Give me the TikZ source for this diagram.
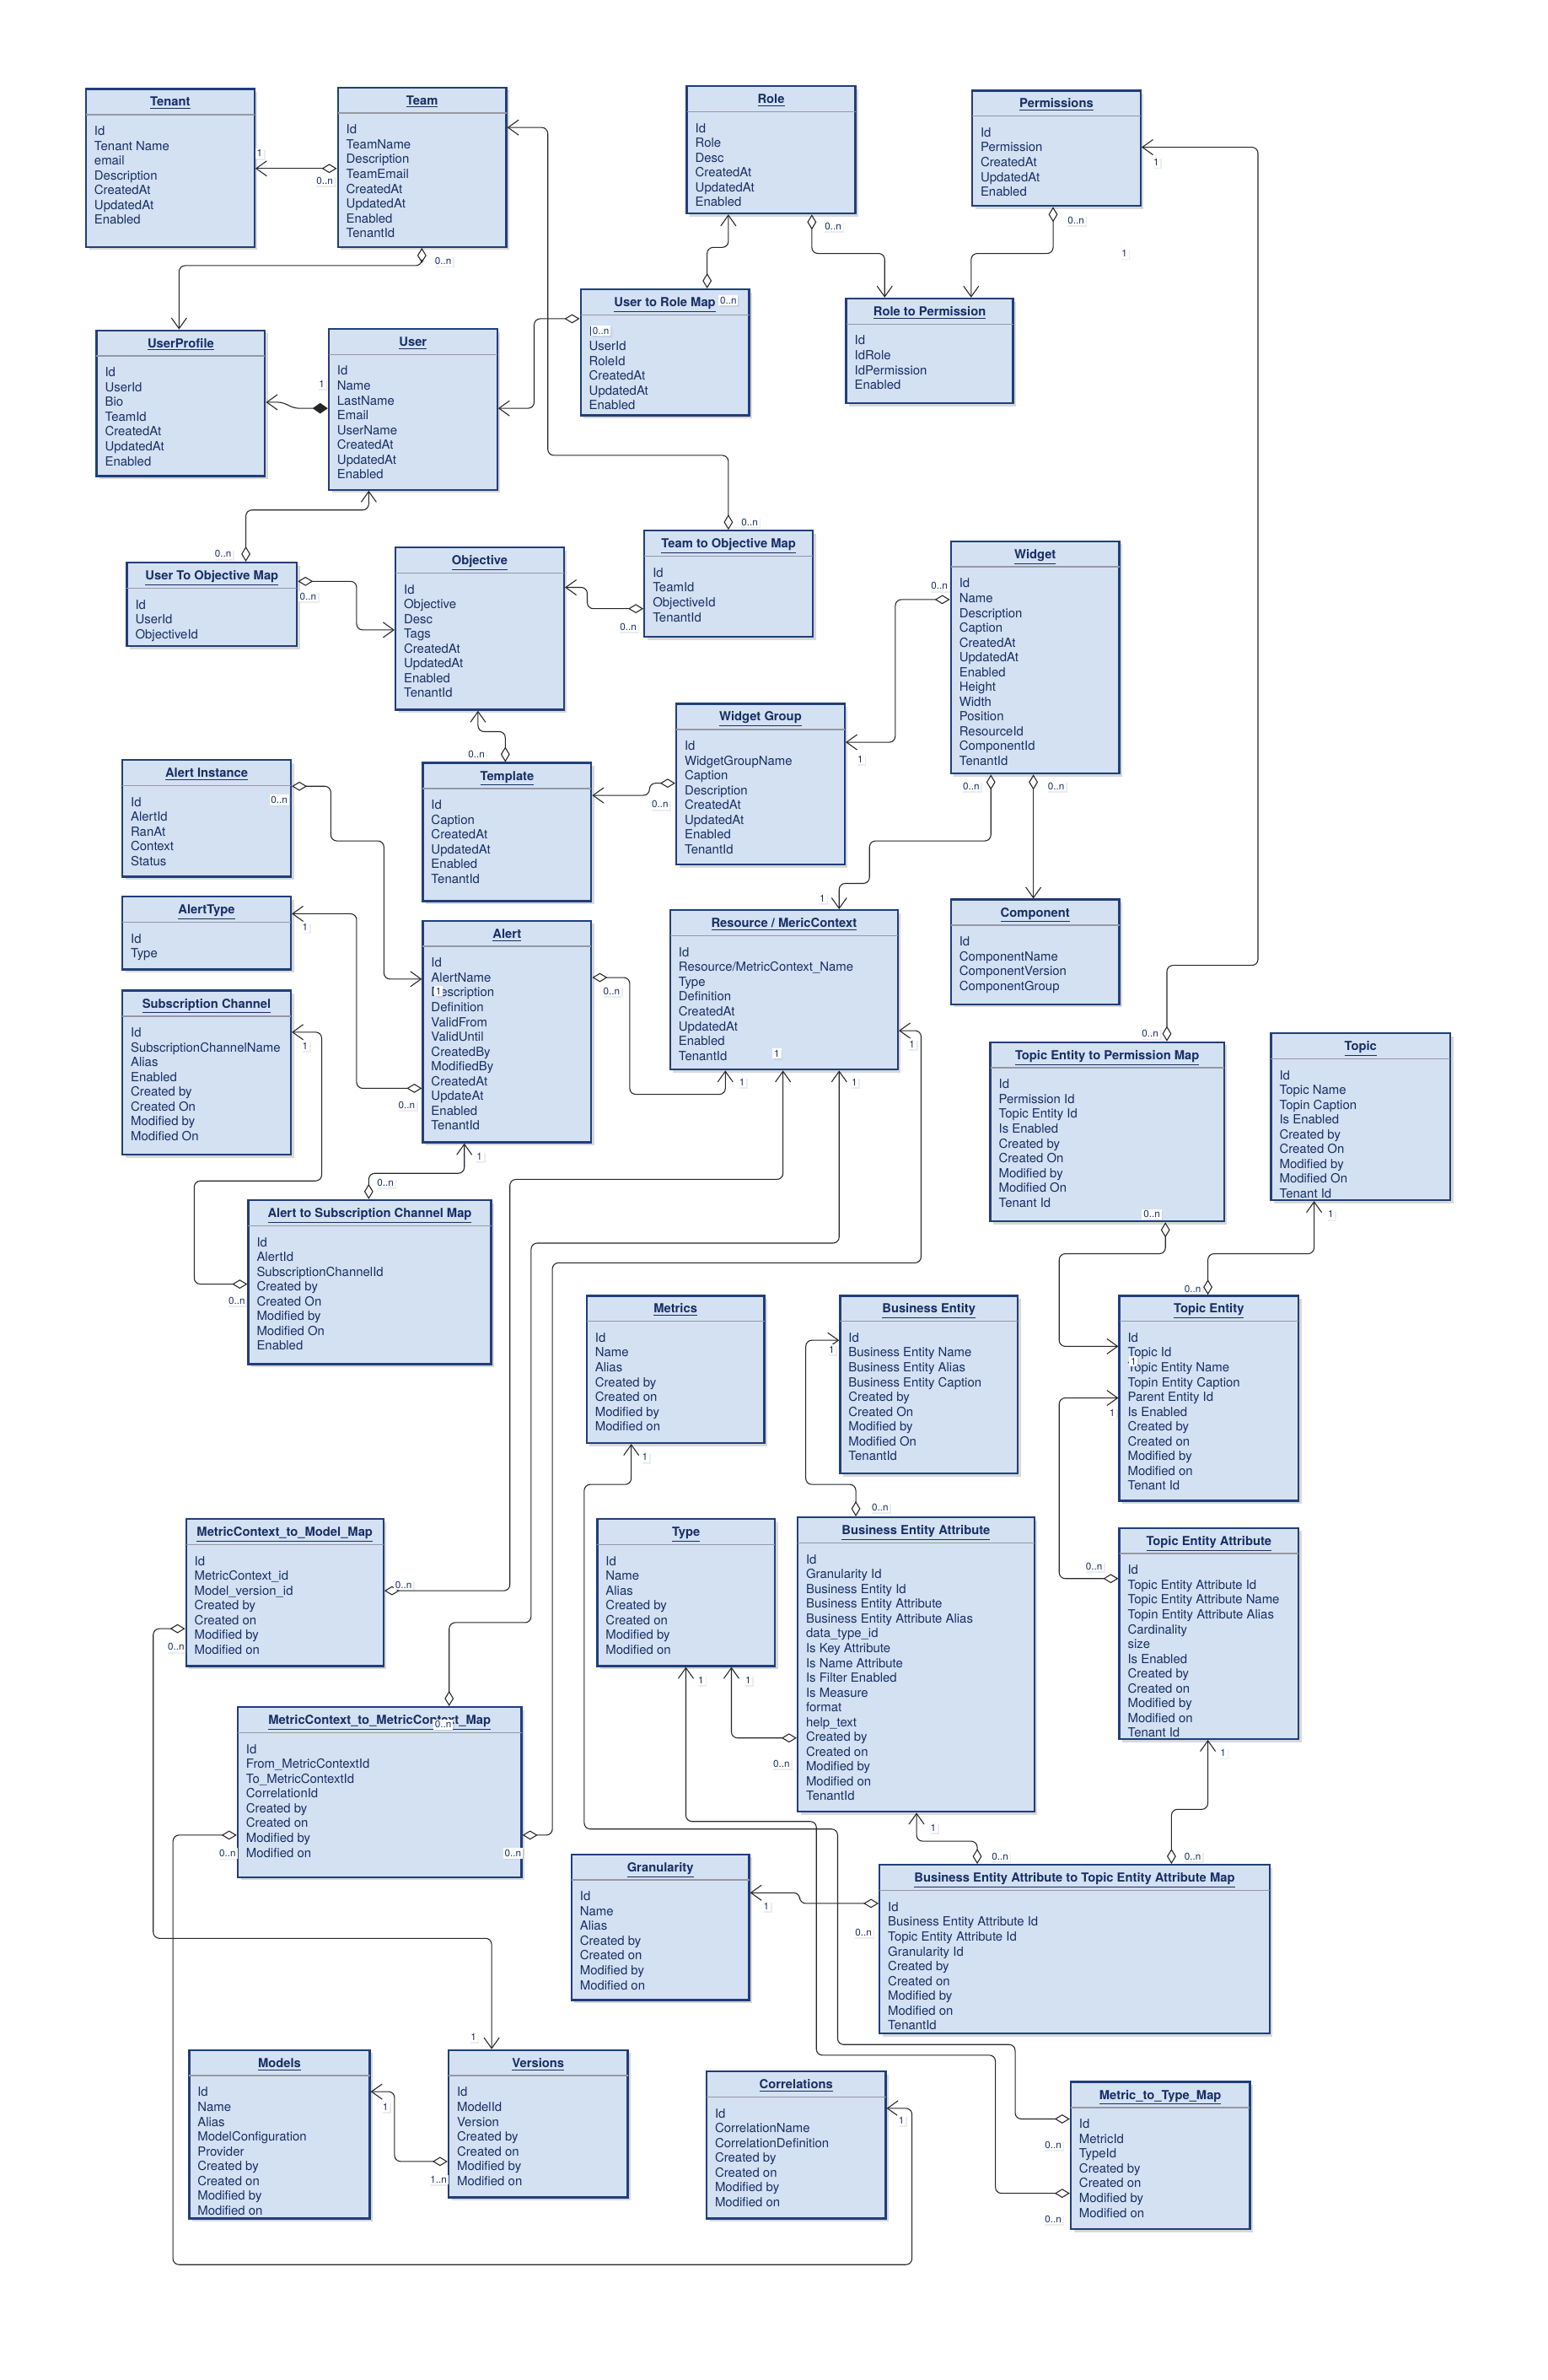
\documentclass[tikz,border=0pt]{standalone}
\usepackage{fontspec}
\setmainfont{TeX Gyre Heros}
\usetikzlibrary{arrows.meta,shadows}

\definecolor{boxfill}{RGB}{212,225,243}
\definecolor{boxline}{RGB}{32,62,122}
\definecolor{boxtext}{RGB}{22,46,100}
\definecolor{sepgray}{RGB}{150,152,162}

\tikzset{
  umlbox/.style={draw=boxline, line width=1.3pt, fill=boxfill, inner sep=0pt,
    drop shadow={shadow xshift=2pt, shadow yshift=-2pt, opacity=0.3}},
  umltitle/.style={font=\fontsize{8.2}{9}\selectfont\bfseries, text=boxtext, inner sep=0pt, anchor=base},
  umlitems/.style={font=\fontsize{8.3}{9.75}\selectfont, text=boxtext, align=left, inner sep=0pt, anchor=north west},
  umlsep/.style={draw=sepgray, line width=0.8pt},
  mult/.style={font=\fontsize{6.5}{7}\selectfont, text=boxtext, fill=white, inner sep=1pt,
    drop shadow={shadow xshift=1pt, shadow yshift=-1pt, opacity=0.15}},
  conn/.style={draw=black!85, line width=0.6pt, rounded corners=4pt},
  agg/.style={conn, {Diamond[open,length=10pt,width=6pt]}-{Straight Barb[length=7pt,width=10pt]}},
  comp/.style={conn, {Diamond[length=10pt,width=7pt]}-{Straight Barb[length=7pt,width=10pt]}},
}

\newcommand\zn{0..n}
\newcommand\on{1..n}
% name, x, y, width, height, title, items
\newcommand\umlclass[7]{%
  \node[umlbox, minimum width=#4pt, minimum height=#5pt, anchor=north west] (#1) at (#2,#3) {};
  \draw[umlsep] ([xshift=0.6pt,yshift=-17.5pt]#1.north west) -- ([xshift=-0.6pt,yshift=-17.5pt]#1.north east);
  \node[umltitle] (#1-title) at ([yshift=-12pt]#1.north) {\underline{#6}};
  \node[umlitems] (#1-items) at ([xshift=6pt,yshift=-25pt]#1.north west) {#7};
}

\begin{document}
\begin{tikzpicture}[x=1pt,y=-1pt]
\fill[white] (0,0) rectangle (1020,1568);
\useasboundingbox (0,0) rectangle (1020,1568);

\umlclass{tenant}{56}{58}{111}{104}{Tenant}{Id\\Tenant Name\\email\\Description\\CreatedAt\\UpdatedAt\\Enabled}
\umlclass{team}{222}{57}{111}{105}{Team}{Id\\TeamName\\Description\\TeamEmail\\CreatedAt\\UpdatedAt\\Enabled\\TenantId}
\umlclass{role}{452}{56}{111}{84}{Role}{Id\\Role\\Desc\\CreatedAt\\UpdatedAt\\Enabled}
\umlclass{permissions}{640}{59}{111}{76}{Permissions}{Id\\Permission\\CreatedAt\\UpdatedAt\\Enabled}
\umlclass{userprofile}{63}{217}{111}{96}{UserProfile}{Id\\UserId\\Bio\\TeamId\\CreatedAt\\UpdatedAt\\Enabled}
\umlclass{user}{216}{216}{111}{106}{User}{Id\\Name\\LastName\\Email\\UserName\\CreatedAt\\UpdatedAt\\Enabled}
\umlclass{userrole}{382}{190}{111}{83}{User to Role Map}{Id\\UserId\\RoleId\\CreatedAt\\UpdatedAt\\Enabled}
\umlclass{roleperm}{557}{196}{110}{69}{Role to Permission}{Id\\IdRole\\IdPermission\\Enabled}
\umlclass{userobj}{83}{370}{112}{55}{User To Objective Map}{Id\\UserId\\ObjectiveId}
\umlclass{objective}{260}{360}{111}{107}{Objective}{Id\\Objective\\Desc\\Tags\\CreatedAt\\UpdatedAt\\Enabled\\TenantId}
\umlclass{teamobj}{424}{349}{111}{70}{Team to Objective Map}{Id\\TeamId\\ObjectiveId\\TenantId}
\umlclass{widget}{626}{356}{111}{153}{Widget}{Id\\Name\\Description\\Caption\\CreatedAt\\UpdatedAt\\Enabled\\Height\\Width\\Position\\ResourceId\\ComponentId\\TenantId}
\umlclass{widgetgroup}{445}{463}{111}{106}{Widget Group}{Id\\WidgetGroupName\\Caption\\Description\\CreatedAt\\UpdatedAt\\Enabled\\TenantId}
\umlclass{template}{278}{502}{111}{91}{Template}{Id\\Caption\\CreatedAt\\UpdatedAt\\Enabled\\TenantId}
\umlclass{alertinst}{80}{500}{111}{77}{Alert Instance}{Id\\AlertId\\RanAt\\Context\\Status}
\umlclass{alerttype}{80}{590}{111}{48}{AlertType}{Id\\Type}
\umlclass{subchannel}{80}{652}{111}{108}{Subscription Channel}{Id\\SubscriptionChannelName\\Alias\\Enabled\\Created by\\Created On\\Modified by\\Modified On}
\umlclass{alert}{278}{606}{111}{146}{Alert}{Id\\AlertName\\Description\\Definition\\ValidFrom\\ValidUntil\\CreatedBy\\ModifiedBy\\CreatedAt\\UpdateAt\\Enabled\\TenantId}
\umlclass{resource}{441}{599}{150}{105}{Resource / MericContext}{Id\\Resource/MetricContext\_Name\\Type\\Definition\\CreatedAt\\UpdatedAt\\Enabled\\TenantId}
\umlclass{component}{626}{592}{111}{69}{Component}{Id\\ComponentName\\ComponentVersion\\ComponentGroup}
\umlclass{alertsub}{163}{790}{160}{108}{Alert to Subscription Channel Map}{Id\\AlertId\\SubscriptionChannelId\\Created by\\Created On\\Modified by\\Modified On\\Enabled}
\umlclass{topicperm}{652}{686}{154}{118}{Topic Entity to Permission Map}{Id\\Permission Id\\Topic Entity Id\\Is Enabled\\Created by\\Created On\\Modified by\\Modified On\\Tenant Id}
\umlclass{topic}{837}{680}{118}{110}{Topic}{Id\\Topic Name\\Topin Caption\\Is Enabled\\Created by\\Created On\\Modified by\\Modified On\\Tenant Id}
\umlclass{metrics}{386}{853}{117}{97}{Metrics}{Id\\Name\\Alias\\Created by\\Created on\\Modified by\\Modified on}
\umlclass{bizentity}{553}{853}{117}{117}{Business Entity}{Id\\Business Entity Name\\Business Entity Alias\\Business Entity Caption\\Created by\\Created On\\Modified by\\Modified On\\TenantId}
\umlclass{topicentity}{737}{853}{118}{135}{Topic Entity}{Id\\Topic Id\\Topic Entity Name\\Topin Entity Caption\\Parent Entity Id\\Is Enabled\\Created by\\Created on\\Modified by\\Modified on\\Tenant Id}
\umlclass{ctxmodel}{122}{1000}{130}{97}{MetricContext\_to\_Model\_Map}{Id\\MetricContext\_id\\Model\_version\_id\\Created by\\Created on\\Modified by\\Modified on}
\umlclass{type}{393}{1000}{117}{97}{Type}{Id\\Name\\Alias\\Created by\\Created on\\Modified by\\Modified on}
\umlclass{bizattr}{525}{999}{156}{194}{Business Entity Attribute}{Id\\Granularity Id\\Business Entity Id\\Business Entity Attribute\\Business Entity Attribute Alias\\data\_type\_id\\Is Key Attribute\\Is Name Attribute\\Is Filter Enabled\\Is Measure\\format\\help\_text\\Created by\\Created on\\Modified by\\Modified on\\TenantId}
\umlclass{topicattr}{737}{1006}{118}{139}{Topic Entity Attribute}{Id\\Topic Entity Attribute Id\\Topic Entity Attribute Name\\Topin Entity Attribute Alias\\Cardinality\\size\\Is Enabled\\Created by\\Created on\\Modified by\\Modified on\\Tenant Id}
\umlclass{ctxctx}{156}{1124}{187}{112}{MetricContext\_to\_MetricContext\_Map}{Id\\From\_MetricContextId\\To\_MetricContextId\\CorrelationId\\Created by\\Created on\\Modified by\\Modified on}
\umlclass{granularity}{376}{1221}{117}{96}{Granularity}{Id\\Name\\Alias\\Created by\\Created on\\Modified by\\Modified on}
\umlclass{attrmap}{579}{1228}{257}{111}{Business Entity Attribute to Topic Entity Attribute Map}{Id\\Business Entity Attribute Id\\Topic Entity Attribute Id\\Granularity Id\\Created by\\Created on\\Modified by\\Modified on\\TenantId}
\umlclass{models}{124}{1350}{119}{111}{Models}{Id\\Name\\Alias\\ModelConfiguration\\Provider\\Created by\\Created on\\Modified by\\Modified on}
\umlclass{versions}{295}{1350}{118}{97}{Versions}{Id\\ModelId\\Version\\Created by\\Created on\\Modified by\\Modified on}
\umlclass{correlations}{465}{1364}{118}{97}{Correlations}{Id\\CorrelationName\\CorrelationDefinition\\Created by\\Created on\\Modified by\\Modified on}
\umlclass{metrictype}{705}{1371}{118}{97}{Metric\_to\_Type\_Map}{Id\\MetricId\\TypeId\\Created by\\Created on\\Modified by\\Modified on}

\draw[agg] (team.west |- 0,111) -- (tenant.east |- 0,111);
\draw[agg] (team.south -| 278,0) -- (278,175) -- (118,175) -- (userprofile.north -| 118,0);
\draw[comp] (user.west |- 0,269) -- (193,269) -- (187,265) -- (userprofile.east |- 0,265);
\draw[agg] (userrole.west |- 0,210) -- (352,210) -- (352,269) -- (user.east |- 0,269);
\draw[agg] (userrole.north -| 466,0) -- (466,163) -- (480,163) -- (role.south -| 480,0);
\draw[agg] (teamobj.north -| 480,0) -- (480,300) -- (361,300) -- (361,84) -- (team.east |- 0,84);
\draw[agg] (role.south -| 535,0) -- (535,167) -- (583,167) -- (roleperm.north -| 583,0);
\draw[agg] (permissions.south -| 694,0) -- (694,167) -- (640,167) -- (roleperm.north -| 640,0);
\draw[agg] (topicperm.north -| 769,0) -- (769,636) -- (829,636) -- (829,97) -- (permissions.east |- 0,97);
\draw[agg] (userobj.north -| 162,0) -- (162,336) -- (243,336) -- (user.south -| 243,0);
\draw[agg] (userobj.east |- 0,383) -- (235,383) -- (235,415) -- (objective.west |- 0,415);
\draw[agg] (teamobj.west |- 0,401) -- (387,401) -- (387,387) -- (objective.east |- 0,387);
\draw[agg] (template.north -| 333,0) -- (333,482) -- (315,482) -- (objective.south -| 315,0);
\draw[agg] (widgetgroup.west |- 0,516) -- (428,516) -- (428,524) -- (template.east |- 0,524);
\draw[agg] (widget.west |- 0,395) -- (590,395) -- (590,489) -- (widgetgroup.east |- 0,489);
\draw[agg] (widget.south -| 653,0) -- (653,554) -- (573,554) -- (573,582) -- (553,582) -- (resource.north -| 553,0);
\draw[agg] (widget.south -| 681,0) -- (component.north -| 681,0);
\draw[agg] (alertinst.east |- 0,518) -- (218,518) -- (218,554) -- (253,554) -- (253,645) -- (alert.west |- 0,645);
\draw[agg] (alert.west |- 0,717) -- (235,717) -- (235,602) -- (alerttype.east |- 0,602);
\draw[agg] (alertsub.west |- 0,846) -- (128,846) -- (128,778) -- (212,778) -- (212,680) -- (subchannel.east |- 0,680);
\draw[agg] (alertsub.north -| 243,0) -- (243,773) -- (306,773) -- (alert.south -| 306,0);
\draw[agg] (alert.east |- 0,644) -- (415,644) -- (415,721) -- (478,721) -- (resource.south -| 478,0);
\draw[agg] (ctxmodel.east |- 0,1048) -- (336,1048) -- (336,777) -- (516,777) -- (resource.south -| 516,0);
\draw[agg] (ctxctx.north -| 296,0) -- (296,1069) -- (350,1069) -- (350,819) -- (553,819) -- (resource.south -| 553,0);
\draw[agg] (ctxctx.east |- 0,1209) -- (364,1209) -- (364,832) -- (607,832) -- (607,679) -- (resource.east |- 0,679);
\draw[agg] (ctxctx.west |- 0,1209) -- (114,1209) -- (114,1492) -- (601,1492) -- (601,1389) -- (correlations.east |- 0,1389);
\draw[agg] (ctxmodel.west |- 0,1073) -- (101,1073) -- (101,1277) -- (324,1277) -- (versions.north -| 324,0);
\draw[agg] (versions.west |- 0,1424) -- (260,1424) -- (260,1378) -- (models.east |- 0,1378);
\draw[agg] (bizattr.west |- 0,1145) -- (482,1145) -- (type.south -| 482,0);
\draw[agg] (metrictype.west |- 0,1445) -- (656,1445) -- (656,1354) -- (538,1354) -- (538,1200) -- (452,1200) -- (type.south -| 452,0);
\draw[agg] (metrictype.west |- 0,1396) -- (669,1396) -- (669,1347) -- (552,1347) -- (552,1205) -- (385,1205) -- (385,978) -- (416,978) -- (metrics.south -| 416,0);
\draw[agg] (bizattr.north -| 564,0) -- (564,978) -- (531,978) -- (531,883) -- (bizentity.west |- 0,883);
\draw[agg] (attrmap.north -| 644,0) -- (644,1213) -- (604,1213) -- (bizattr.south -| 604,0);
\draw[agg] (attrmap.north -| 772,0) -- (772,1192) -- (796,1192) -- (topicattr.south -| 796,0);
\draw[agg] (attrmap.west |- 0,1254) -- (527,1254) -- (527,1247) -- (granularity.east |- 0,1247);
\draw[agg] (topicattr.west |- 0,1040) -- (698,1040) -- (698,921) -- (topicentity.west |- 0,921);
\draw[agg] (topicperm.south -| 768,0) -- (768,826) -- (698,826) -- (698,887) -- (topicentity.west |- 0,887);
\draw[agg] (topicentity.north -| 796,0) -- (796,826) -- (866,826) -- (topic.south -| 866,0);

\foreach \mx/\my/\mt [count=\i] in {171/101/1, 214/119/\zn, 292/172/\zn, 212/253/1, 396/218/\zn,
  480/198/\zn, 494/344/\zn, 549/149/\zn, 709/145/\zn, 762/107/1, 741/167/1, 758/681/\zn,
  147/365/\zn, 203/393/\zn, 414/413/\zn, 314/497/\zn, 435/530/\zn, 619/386/\zn, 567/500/1,
  640/518/\zn, 542/592/1, 696/518/\zn, 184/527/\zn, 201/611/1, 268/728/\zn, 201/689/1,
  156/857/\zn, 254/779/\zn, 316/762/1, 403/653/\zn, 489/713/1, 289/653/1, 512/694/1,
  563/713/1, 601/688/1, 266/1044/\zn, 116/1085/\zn, 292/1136/\zn, 338/1221/\zn, 150/1221/\zn,
  594/1397/1, 312/1342/1, 254/1388/1, 289/1436/\on, 425/960/1, 462/1107/1, 493/1107/1,
  515/1162/\zn, 548/889/1, 580/993/\zn, 615/1204/1, 659/1223/\zn, 806/1155/1, 786/1223/\zn,
  505/1256/1, 569/1273/\zn, 721/1032/\zn, 733/931/1, 747/897/1, 759/800/\zn, 786/849/\zn,
  877/800/1, 694/1413/\zn, 694/1462/\zn}
  \node[mult] (mult\i) at (\mx,\my) {\mt};
\end{tikzpicture}
\end{document}
